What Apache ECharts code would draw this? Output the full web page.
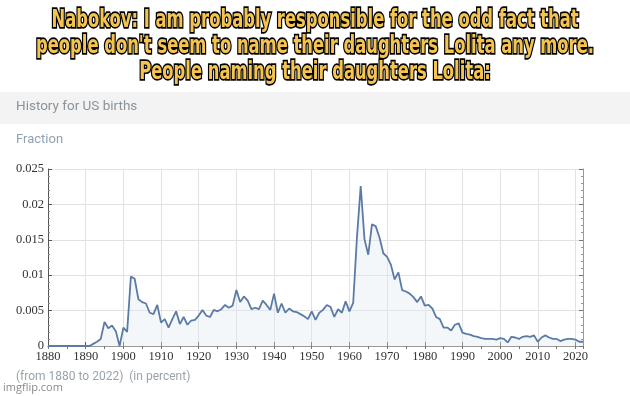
<!DOCTYPE html>
<html>
<head>
<meta charset="utf-8">
<script src="https://cdn.jsdelivr.net/npm/echarts@6/dist/echarts.min.js"></script>
<style>
html,body{margin:0;padding:0;background:#fff;}
#chart{width:630px;height:396px;}
</style>
</head>
<body>
<div id="chart"></div>
<script>
var titleLines = [
  "Nabokov: I am probably responsible for the odd fact that",
  "people don't seem to name their daughters Lolita any more.",
  "People naming their daughters Lolita:"
];
var headerText = "History for US births";
var subText = "Fraction";
var footerText = "(from 1880 to 2022)  (in percent)";
var watermark = "imgflip.com";

var startYear = 1880;
var endYear = 2022;
// fraction values, one per year from 1880 to 2022
var values1880s = [0,0,0,0,0,0,0,0,0,0];
var values1890s = [0,0,0.0003,0.0006,0.001,0.0034,0.0025,0.0029,0.0021,0];
var values1900s = [0.0026,0.002,0.0098,0.0095,0.0066,0.0062,0.006,0.0047,0.0045,0.0058];
var values1910s = [0.0033,0.0038,0.0026,0.0038,0.0049,0.0031,0.0041,0.003,0.0036,0.0037];
var values1920s = [0.0043,0.0051,0.0043,0.0041,0.0051,0.0049,0.0052,0.0058,0.0054,0.0057];
var values1930s = [0.0079,0.0062,0.007,0.0064,0.0052,0.0054,0.0052,0.0064,0.0058,0.0051];
var values1940s = [0.0074,0.0047,0.006,0.0047,0.0053,0.0049,0.0048,0.0045,0.0042,0.0038];
var values1950s = [0.0049,0.0037,0.0047,0.0051,0.0058,0.0055,0.0041,0.0052,0.0047,0.0063];
var values1960s = [0.0049,0.0061,0.0153,0.0226,0.0151,0.0129,0.0172,0.0169,0.0153,0.0131];
var values1970s = [0.0126,0.0115,0.0094,0.0104,0.0079,0.0077,0.0074,0.0069,0.0062,0.007];
var values1980s = [0.0057,0.0058,0.0053,0.0041,0.0038,0.0026,0.0026,0.0022,0.003,0.0032];
var values1990s = [0.0019,0.0017,0.0016,0.0014,0.0013,0.0011,0.001,0.001,0.001,0.0009];
var values2000s = [0.0011,0.001,0.0005,0.0013,0.0012,0.001,0.0013,0.0014,0.0013,0.0015];
var values2010s = [0.0006,0.0012,0.0015,0.0012,0.001,0.001,0.0007,0.0009,0.001,0.001];
var values2020s = [0.0009,0.0006,0.0006];

var yTicks = [0, 0.005, 0.01, 0.015, 0.02, 0.025];

var allValues = [].concat(values1880s, values1890s, values1900s, values1910s, values1920s,
  values1930s, values1940s, values1950s, values1960s, values1970s, values1980s,
  values1990s, values2000s, values2010s, values2020s);
var seriesData = allValues.map(function (v, i) { return [startYear + i, v]; });

var chart = echarts.init(document.getElementById('chart'), null, {renderer: 'canvas'});

var titleFontSpec = 'bold 23px "DejaVu Sans Condensed", "DejaVu Sans", sans-serif';
var measureCtx = document.createElement('canvas').getContext('2d');
measureCtx.font = titleFontSpec;
var refWidth = measureCtx.measureText(titleLines[1]).width;
var titleScaleX = 558 / refWidth;

var titleStyle = function (txt, cy) {
  return {
    type: 'text',
    x: 315, y: cy,
    scaleX: titleScaleX, scaleY: 1.1,
    z: 10,
    style: {
      x: 0, y: 0,
      text: txt,
      align: 'center',
      verticalAlign: 'middle',
      font: titleFontSpec,
      fill: '#f4c350',
      stroke: '#000',
      lineWidth: 3,
      shadowBlur: 5,
      shadowColor: 'rgba(0,0,0,0.9)'
    }
  };
};

var labelFont = '"Liberation Serif", "DejaVu Serif", serif';

chart.setOption({
  animation: false,
  backgroundColor: '#fff',
  grid: {left: 48, right: 47, top: 169, bottom: 50},
  graphic: [
    {type: 'rect', shape: {x: 0, y: 92, width: 630, height: 32}, style: {fill: '#f3f3f3'}, z: 0},
    {type: 'text', left: 16, top: 100, style: {text: headerText, font: '13.5px Roboto, sans-serif', fill: '#8a949c'}},
    {type: 'text', left: 16, top: 133, style: {text: subText, font: '13px Roboto, sans-serif', fill: '#8fa2b2'}},
    {type: 'text', left: 16, top: 371, style: {text: footerText, font: '12px Roboto, sans-serif', fill: '#9aa3aa'}},
    {type: 'text', left: 3, top: 382, style: {text: watermark, font: '11px "Open Sans", sans-serif', fill: '#8a8a8a'}},
    titleStyle(titleLines[0], 20),
    titleStyle(titleLines[1], 46),
    titleStyle(titleLines[2], 72)
  ],
  xAxis: [{
    type: 'value', min: startYear, max: endYear, interval: 10,
    position: 'bottom',
    axisLine: {show: true, lineStyle: {color: '#555', width: 1}},
    axisTick: {show: true, inside: true, length: 4, lineStyle: {color: '#555'}},
    minorTick: {show: false},
    splitLine: {show: true, lineStyle: {color: '#e2e2e2', width: 1}},
    axisLabel: {
      color: '#333', fontFamily: labelFont, fontSize: 12.5, margin: 4,
      showMaxLabel: false,
      formatter: function (v) { return String(v); }
    }
  }, {
    type: 'value', min: startYear, max: endYear, interval: 5,
    position: 'top',
    axisLine: {show: true, lineStyle: {color: '#999', width: 1}},
    axisTick: {show: true, inside: true, length: 3, lineStyle: {color: '#777'}},
    splitLine: {show: false},
    axisLabel: {show: false}
  }],
  yAxis: [{
    type: 'value', min: 0, max: 0.025, interval: 0.005,
    position: 'left',
    axisLine: {show: true, lineStyle: {color: '#555', width: 1}},
    axisTick: {show: true, inside: true, length: 4, lineStyle: {color: '#555'}},
    minorTick: {show: true, splitNumber: 5, length: 2, lineStyle: {color: '#888'}},
    splitLine: {show: true, lineStyle: {color: '#e2e2e2', width: 1}},
    axisLabel: {
      color: '#333', fontFamily: labelFont, fontSize: 12.5, margin: 4,
      formatter: function (v) {
        var best = yTicks.reduce(function (a, b) { return Math.abs(b - v) < Math.abs(a - v) ? b : a; });
        return String(best);
      }
    }
  }, {
    type: 'value', min: 0, max: 0.025, interval: 0.005,
    position: 'right',
    axisLine: {show: true, lineStyle: {color: '#999', width: 1}},
    axisTick: {show: true, inside: true, length: 4, lineStyle: {color: '#777'}},
    minorTick: {show: true, splitNumber: 5, length: 2, lineStyle: {color: '#999'}},
    splitLine: {show: false},
    axisLabel: {show: false}
  }],
  series: [{
    type: 'line',
    data: seriesData,
    xAxisIndex: 0, yAxisIndex: 0,
    showSymbol: false,
    lineStyle: {color: '#5b7ba6', width: 1.8},
    areaStyle: {color: 'rgba(225,233,242,0.55)'},
    z: 5
  }]
});
</script>
</body>
</html>
